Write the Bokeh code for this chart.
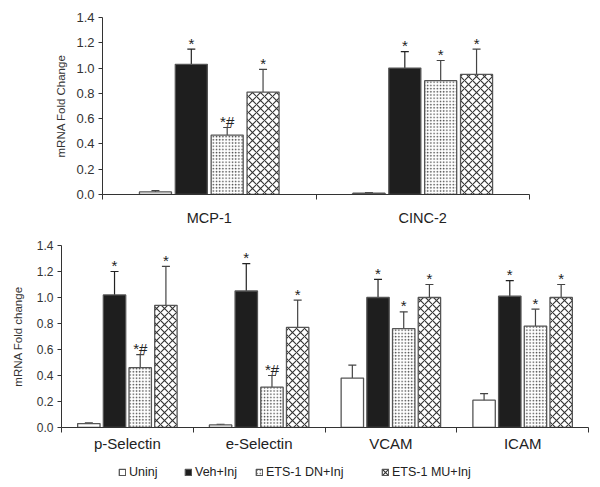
from bokeh.plotting import figure
from bokeh.models import (ColumnDataSource, Whisker, TeeHead, FixedTicker, Legend, LegendItem,
                          Range1d)
from bokeh.core.properties import value
from bokeh.embed import file_html
from bokeh.resources import INLINE

# ---------------- data ----------------
groups = ["Uninj", "Veh+Inj", "ETS-1 DN+Inj", "ETS-1 MU+Inj"]

cats_top = ["MCP-1", "CINC-2"]
top_uninj = [0.02, 0.01]
top_uninj_err = [0.01, 0.005]
top_veh = [1.03, 1.00]
top_veh_err = [0.12, 0.13]
top_dn = [0.47, 0.90]
top_dn_err = [0.06, 0.16]
top_mu = [0.81, 0.95]
top_mu_err = [0.18, 0.20]
top_marks_veh = ["*", "*"]
top_marks_dn = ["*#", "*"]
top_marks_mu = ["*", "*"]

cats_bot = ["p-Selectin", "e-Selectin", "VCAM", "ICAM"]
bot_uninj = [0.03, 0.02, 0.38, 0.21]
bot_uninj_err = [0.005, 0.005, 0.10, 0.05]
bot_veh = [1.02, 1.05, 1.00, 1.01]
bot_veh_err = [0.18, 0.21, 0.14, 0.12]
bot_dn = [0.46, 0.31, 0.76, 0.78]
bot_dn_err = [0.10, 0.09, 0.13, 0.13]
bot_mu = [0.94, 0.77, 1.00, 1.00]
bot_mu_err = [0.30, 0.21, 0.10, 0.10]
bot_marks_veh = ["*", "*", "*", "*"]
bot_marks_dn = ["*#", "*#", "*", "*"]
bot_marks_mu = ["*", "*", "*", "*"]

y_ticks = [0.0, 0.2, 0.4, 0.6, 0.8, 1.0, 1.2, 1.4]

FONT = "Liberation Sans"
styles = [
    dict(fill_color="white", hatch_pattern=None),
    dict(fill_color="#1e1e1e", hatch_pattern=None),
    dict(fill_color="white", hatch_pattern="dot", hatch_color="#444444", hatch_scale=3.2, hatch_weight=0.8),
    dict(fill_color="white", hatch_pattern="diagonal_cross", hatch_color="#333333", hatch_scale=8.0, hatch_weight=1.1),
]


def bar_style(gi):
    st = styles[gi]
    kw = dict(fill_color=st["fill_color"], line_color="#555555", line_width=1.3)
    if st["hatch_pattern"]:
        kw.update(hatch_pattern=st["hatch_pattern"], hatch_color=st["hatch_color"],
                  hatch_scale=st["hatch_scale"], hatch_weight=st["hatch_weight"])
    return kw


def make_panel(cats, series, errs, marks, width, height, borders, step, bw,
               tick_font, cat_font, ylabel, cat_standoff, label_standoff):
    n = len(cats)
    p = figure(width=width, height=height, output_backend="svg", toolbar_location=None,
               x_range=Range1d(-0.5, n - 0.5), y_range=Range1d(0, 1.4),
               min_border_left=borders[0], min_border_right=borders[1],
               min_border_top=borders[2], min_border_bottom=borders[3])
    p.outline_line_color = None
    p.xgrid.visible = False
    p.ygrid.visible = False
    p.background_fill_color = "white"
    for gi in range(4):
        xs = [i + (gi - 1.5) * step for i in range(n)]
        vals = series[gi]
        er = errs[gi]
        src = ColumnDataSource(dict(x=xs, top=vals,
                                    upper=[v + e for v, e in zip(vals, er)],
                                    lower=[v - e for v, e in zip(vals, er)]))
        p.vbar(x="x", top="top", width=bw, bottom=0, source=src, **bar_style(gi))
        wcol = "#222222" if gi == 1 else "#444444"
        w = Whisker(base="x", upper="upper", lower="lower", source=src, dimension="height",
                    line_color=wcol, line_width=1.2,
                    upper_head=TeeHead(size=8, line_color=wcol, line_width=1.2),
                    lower_head=TeeHead(size=8, line_color=wcol, line_width=1.2))
        p.add_layout(w)
        if marks[gi] is not None:
            msrc = ColumnDataSource(dict(x=xs, y=[v + e for v, e in zip(vals, er)], t=marks[gi]))
            p.text(x="x", y="y", text="t", source=msrc, text_align="center",
                   text_baseline="alphabetic", y_offset=-6,
                   text_font=value(FONT), text_font_size="15px", text_color="#222222")
    # y axis
    ya = p.yaxis[0]
    ya.ticker = FixedTicker(ticks=y_ticks)
    ya.major_label_overrides = {t: f"{t:.1f}" for t in y_ticks}
    ya.major_label_text_font = FONT
    ya.major_label_text_font_size = tick_font
    ya.major_label_text_color = "#333333"
    ya.major_tick_in = 0
    ya.major_tick_out = 4
    ya.minor_tick_line_color = None
    ya.axis_line_color = "#333333"
    ya.major_tick_line_color = "#333333"
    ya.axis_label = ylabel
    ya.axis_label_text_font = FONT
    ya.axis_label_text_font_size = "11.5px"
    ya.axis_label_text_font_style = "normal"
    ya.axis_label_text_color = "#333333"
    ya.axis_label_standoff = label_standoff
    ya.major_label_standoff = 4
    # x axis
    xa = p.xaxis[0]
    xa.ticker = FixedTicker(ticks=list(range(n)), minor_ticks=[i - 0.5 for i in range(n + 1)])
    xa.major_label_overrides = {i: c for i, c in enumerate(cats)}
    xa.major_label_text_font = FONT
    xa.major_label_text_font_size = cat_font
    xa.major_label_text_color = "#222222"
    xa.major_tick_in = 0
    xa.major_tick_out = 0
    xa.minor_tick_in = 0
    xa.minor_tick_out = 5
    xa.minor_tick_line_color = "#333333"
    xa.axis_line_color = "#333333"
    xa.major_label_standoff = cat_standoff
    return p


p1 = make_panel(cats_top,
                [top_uninj, top_veh, top_dn, top_mu],
                [top_uninj_err, top_veh_err, top_dn_err, top_mu_err],
                [None, top_marks_veh, top_marks_dn, top_marks_mu],
                width=600, height=232, borders=(102, 71, 17, 38),
                step=0.168, bw=0.15, tick_font="13px", cat_font="14.5px",
                ylabel="mRNA Fold Change", cat_standoff=10, label_standoff=6)

bot_series = [bot_uninj, bot_veh, bot_dn, bot_mu]
p2 = make_panel(cats_bot,
                bot_series,
                [bot_uninj_err, bot_veh_err, bot_dn_err, bot_mu_err],
                [None, bot_marks_veh, bot_marks_dn, bot_marks_mu],
                width=600, height=224, borders=(61, 12, 13, 29),
                step=0.195, bw=0.17, tick_font="12px", cat_font="15px",
                ylabel="mRNA Fold change", cat_standoff=2, label_standoff=10)

# legend strip: hidden proxy bars (same data) supply the legend keys
p3 = figure(width=600, height=31, output_backend="svg", toolbar_location=None,
            x_range=Range1d(-0.5, len(cats_bot) - 0.5), y_range=Range1d(0, 1.4),
            min_border_left=0, min_border_right=0, min_border_top=0, min_border_bottom=0,
            x_axis_location=None, y_axis_location=None)
p3.outline_line_color = None
p3.xgrid.visible = False
p3.ygrid.visible = False
legend_x = [118, 184, 255, 381]
for gi, (lbl, lx) in enumerate(zip(groups, legend_x)):
    src = ColumnDataSource(dict(x=list(range(len(cats_bot))), top=bot_series[gi]))
    r = p3.vbar(x="x", top="top", width=0.17, bottom=0, source=src, **bar_style(gi))
    r.visible = False
    lg = Legend(items=[LegendItem(label=lbl, renderers=[r])], location=(lx, 8),
                orientation="horizontal", padding=0, margin=0, spacing=0,
                glyph_width=8, glyph_height=8, label_standoff=3, label_height=12,
                label_text_font=FONT, label_text_font_size="12.5px",
                label_text_color="#222222", border_line_color=None,
                background_fill_alpha=0, inactive_fill_alpha=0)
    p3.add_layout(lg)

open("out.html", "w").write(file_html([p1, p2, p3], INLINE))
